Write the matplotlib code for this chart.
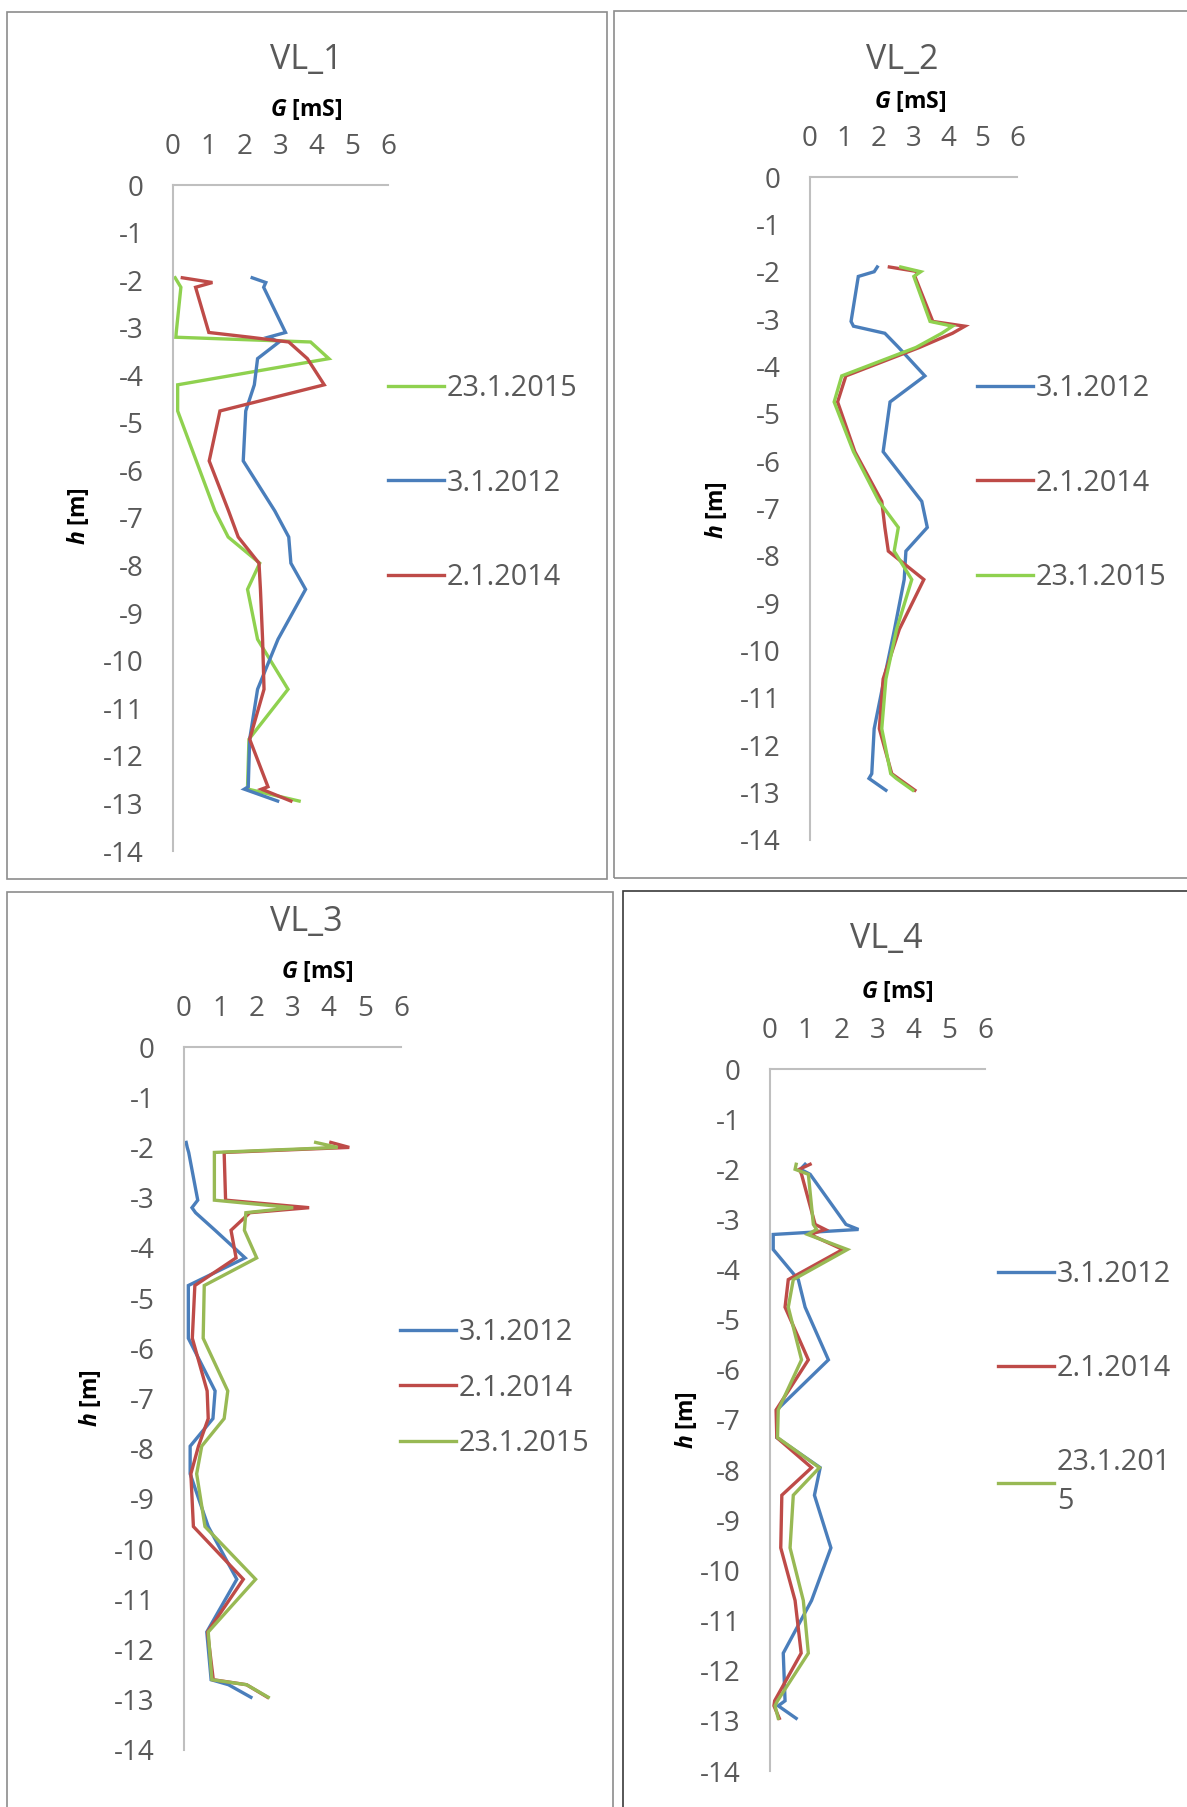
import matplotlib
matplotlib.use("Agg")
import matplotlib.pyplot as plt
from matplotlib.patches import Rectangle

plt.rcParams['font.family'] = ['Open Sans', 'DejaVu Sans']
plt.rcParams['mathtext.fontset'] = 'custom'
plt.rcParams['mathtext.rm'] = 'Open Sans'
plt.rcParams['mathtext.bfit'] = 'Open Sans:italic:bold'
plt.rcParams['axes.unicode_minus'] = False

W, H = 1187, 1807

# VL_1
h1 = [-1.95, -2.05, -2.15, -3.1, -3.2, -3.3, -3.65, -4.2, -4.75, -5.8, -6.85, -7.4, -7.95, -8.5, -9.55, -10.6, -11.65, -12.65, -12.7, -12.95]
g1_2015 = [0.06, 0.14, 0.22, 0.09, 0.08, 3.84, 4.35, 0.13, 0.13, 0.65, 1.17, 1.54, 2.42, 2.08, 2.36, 3.21, 2.12, 2.08, 2.10, 3.52]
g1_2012 = [2.21, 2.59, 2.53, 3.14, 2.66, 2.96, 2.36, 2.27, 2.03, 1.96, 2.84, 3.23, 3.29, 3.70, 2.93, 2.36, 2.14, 2.10, 1.99, 2.92]
g1_2014 = [0.26, 1.10, 0.63, 1.00, 2.15, 3.23, 3.75, 4.22, 1.31, 1.01, 1.55, 1.82, 2.40, 2.44, 2.50, 2.54, 2.14, 2.65, 2.47, 3.29]

# VL_2
h2 = [-1.9, -2.0, -2.1, -3.05, -3.15, -3.3, -3.6, -4.2, -4.75, -5.8, -6.85, -7.4, -7.9, -8.5, -9.55, -10.6, -11.65, -12.6, -12.7, -12.95]
g2_2012 = [1.95, 1.86, 1.40, 1.19, 1.26, 2.17, 2.57, 3.33, 2.32, 2.12, 3.24, 3.40, 2.78, 2.73, 2.45, 2.15, 1.86, 1.79, 1.71, 2.20]
g2_2014 = [2.30, 3.14, 3.04, 3.56, 4.49, 4.13, 3.17, 1.04, 0.80, 1.30, 2.08, 2.17, 2.27, 3.30, 2.59, 2.12, 2.01, 2.37, 2.56, 3.04]
g2_2015 = [2.63, 3.21, 3.01, 3.48, 4.13, 3.82, 3.07, 0.92, 0.70, 1.26, 2.00, 2.56, 2.44, 2.95, 2.51, 2.20, 2.08, 2.34, 2.50, 2.98]

# VL_3
h3 = [-1.9, -2.0, -2.1, -3.05, -3.2, -3.3, -3.65, -4.2, -4.75, -5.8, -6.85, -7.4, -7.95, -8.5, -9.55, -10.6, -11.65, -12.6, -12.7, -12.95]
g3_2012 = [0.06, 0.09, 0.13, 0.38, 0.22, 0.32, 0.86, 1.69, 0.12, 0.12, 0.86, 0.80, 0.17, 0.17, 0.67, 1.46, 0.63, 0.75, 1.23, 1.85]
g3_2014 = [4.06, 4.57, 1.11, 1.15, 3.46, 1.82, 1.30, 1.44, 0.30, 0.23, 0.64, 0.67, 0.40, 0.19, 0.26, 1.64, 0.65, 0.81, 1.73, 2.31]
g3_2015 = [3.64, 4.25, 0.84, 0.84, 3.02, 1.71, 1.67, 2.01, 0.56, 0.53, 1.21, 1.11, 0.49, 0.35, 0.58, 1.98, 0.67, 0.77, 1.73, 2.33]

# VL_4
h4 = [-1.9, -2.0, -2.1, -3.1, -3.2, -3.3, -3.6, -4.2, -4.75, -5.8, -6.8, -7.35, -7.95, -8.5, -9.55, -10.6, -11.65, -12.6, -12.7, -12.95]
g4_2012 = [0.98, 0.85, 1.12, 2.12, 2.47, 0.09, 0.09, 0.79, 0.98, 1.63, 0.19, 0.19, 1.40, 1.24, 1.70, 1.16, 0.37, 0.42, 0.23, 0.73]
g4_2014 = [1.12, 0.82, 0.88, 1.26, 1.54, 1.12, 2.03, 0.51, 0.42, 1.07, 0.17, 0.19, 1.16, 0.33, 0.30, 0.70, 0.87, 0.13, 0.11, 0.26]
g4_2015 = [0.73, 0.70, 1.07, 1.21, 1.30, 1.05, 2.16, 0.65, 0.51, 0.88, 0.23, 0.21, 1.38, 0.65, 0.56, 0.93, 1.07, 0.21, 0.14, 0.23]

x_ticks = [0, 1, 2, 3, 4, 5, 6]
y_ticks = list(range(0, -15, -1))

BLUE = '#4A7EBB'
RED = '#BE4B48'
LIME = '#8FD14F'
OLIVE = '#98B954'
GREY = '#595959'

fig = plt.figure(figsize=(W / 100, H / 100), dpi=100)


def fx(px):
    return px / W


def fy(py):
    return 1 - py / H


def frame(x0, y0, x1, y1, color):
    fig.add_artist(Rectangle((fx(x0), fy(y1)), fx(x1 - x0), (y1 - y0) / H,
                             transform=fig.transFigure, fill=False,
                             edgecolor=color, lw=1.2))


def panel(box, h, series, title, title_xy, xlab_xy, ylab_xy, leg_xy, spacing):
    x0, y0, x1, y1 = box
    ax = fig.add_axes([fx(x0), fy(y1), fx(x1 - x0), (y1 - y0) / H])
    for g, c, lab in series:
        ax.plot(g, h, color=c, lw=2.4, label=lab, clip_on=False,
                solid_joinstyle='miter')
    ax.set_xlim(0, 6)
    ax.set_ylim(-14, 0)
    ax.set_xticks(x_ticks)
    ax.set_yticks(y_ticks)
    ax.xaxis.tick_top()
    ax.tick_params(length=0, labelsize=20, labelcolor=GREY)
    ax.tick_params(axis='x', pad=17)
    ax.tick_params(axis='y', pad=21)
    for s in ['right', 'bottom']:
        ax.spines[s].set_visible(False)
    for s in ['left', 'top']:
        ax.spines[s].set_color('#BFBFBF')
        ax.spines[s].set_linewidth(1.5)
    leg = ax.legend(loc='center left', bbox_to_anchor=(fx(leg_xy[0]), fy(leg_xy[1])),
                    bbox_transform=fig.transFigure, frameon=False, borderpad=0,
                    borderaxespad=0, handlelength=1.95, handletextpad=0.1,
                    labelspacing=spacing, fontsize=20.7, labelcolor=GREY)
    for t in leg.get_texts():
        t.set_linespacing(1.45)
    fig.text(fx(title_xy[0]), fy(title_xy[1]), title, ha='center', va='center',
             fontsize=24.5, color=GREY)
    fig.text(fx(xlab_xy[0]), fy(xlab_xy[1]), r'$\mathbfit{G}$ [mS]', ha='center',
             va='center', fontsize=16.5, fontweight='bold')
    fig.text(fx(ylab_xy[0]), fy(ylab_xy[1]), r'$\mathbfit{h}$ [m]', ha='center',
             va='center', fontsize=16.5, fontweight='bold', rotation=90)
    return ax


frame(7, 12, 607, 879, '#8C8C8C')
frame(614, 11, 1192, 878, '#8C8C8C')
frame(7, 892, 613, 1815, '#8C8C8C')
frame(623, 891, 1192, 1815, '#3A3A3A')

panel((173, 185, 388, 851), h1,
      [(g1_2015, LIME, '23.1.2015'), (g1_2012, BLUE, '3.1.2012'), (g1_2014, RED, '2.1.2014')],
      'VL_1', (306, 60), (306, 110), (78, 516), (388, 483), 2.27)

panel((810, 177, 1017, 840), h2,
      [(g2_2012, BLUE, '3.1.2012'), (g2_2014, RED, '2.1.2014'), (g2_2015, LIME, '23.1.2015')],
      'VL_2', (902, 60), (910, 102), (716, 510), (977, 483), 2.27)

panel((184, 1047, 401, 1750), h3,
      [(g3_2012, BLUE, '3.1.2012'), (g3_2014, RED, '2.1.2014'), (g3_2015, OLIVE, '23.1.2015')],
      'VL_3', (306, 922), (317, 972), (90, 1398), (400, 1388), 0.93)

panel((770, 1069, 985, 1771), h4,
      [(g4_2012, BLUE, '3.1.2012'), (g4_2014, RED, '2.1.2014'), (g4_2015, OLIVE, '23.1.201\n5')],
      'VL_4', (886, 939), (897, 991), (686, 1420), (998, 1388), 2.27)

fig.savefig('out.png', dpi=100)
